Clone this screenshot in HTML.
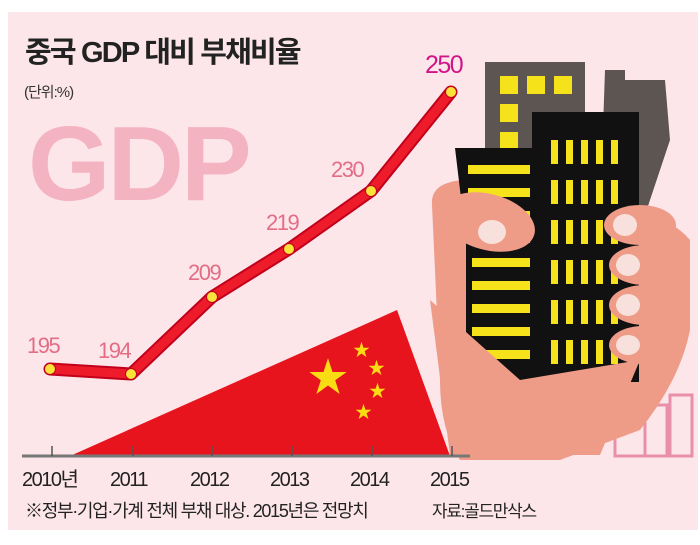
<!DOCTYPE html>
<html><head><meta charset="utf-8"><style>
body{margin:0;background:#fff;width:700px;height:540px;overflow:hidden}
svg text{font-family:"Liberation Sans","Noto Sans CJK KR",sans-serif}
</style></head><body>
<svg width="700" height="540" viewBox="0 0 700 540">
<rect x="8" y="12" width="690" height="518" fill="#fce6ea"/>
<text x="25" y="62" font-size="29" font-weight="bold" fill="#222" letter-spacing="-1.8">중국 GDP 대비 부채비율</text>
<text x="24" y="97" font-size="15" fill="#333" letter-spacing="-1">(단위:%)</text>
<text x="28" y="200" font-size="106" font-weight="bold" fill="#f4b3c0" letter-spacing="-3">GDP</text>
<!-- small pink buildings -->
<g fill="none" stroke="#e890aa" stroke-width="3">
<rect x="615" y="420" width="30" height="36"/><rect x="645" y="405" width="22" height="51"/><rect x="670" y="395" width="22" height="61"/>
</g>
<!-- hand -->
<path d="M432,205 Q430,180 470,180 L520,185 L530,300 L620,230 Q660,205 690,240 L690,330 Q680,380 640,430 L560,460 L460,460 Q440,430 440,380 Z" fill="#ee9c88"/>
<!-- buildings -->
<rect x="485" y="62" width="100" height="120" fill="#5d5552"/>
<path d="M605,70 L625,70 L625,80 L665,80 L670,140 L645,215 L600,215 Z" fill="#5d5552"/>
<g fill="#f6e21a"><rect x="500" y="76" width="18" height="18"/><rect x="527" y="76" width="18" height="18"/><rect x="554" y="76" width="18" height="18"/><rect x="500" y="104" width="18" height="18"/><rect x="500" y="132" width="18" height="18"/></g>
<rect x="532" y="112" width="107" height="270" fill="#111"/>
<path d="M455,148 L535,148 L535,382 L466,382 L466,240 Z" fill="#111"/>
<g fill="#f6e21a">
<rect x="468" y="165" width="62" height="9"/><rect x="468" y="188" width="62" height="9"/><rect x="468" y="211" width="62" height="9"/><rect x="468" y="234" width="62" height="9"/><rect x="472" y="258" width="58" height="9"/><rect x="472" y="281" width="58" height="9"/><rect x="472" y="304" width="58" height="9"/><rect x="472" y="327" width="58" height="9"/><rect x="472" y="350" width="58" height="9"/>
</g>
<g fill="#f6e21a" id="c">
<rect x="551" y="140" width="7" height="24"/><rect x="566" y="140" width="7" height="24"/><rect x="581" y="140" width="7" height="24"/><rect x="596" y="140" width="7" height="24"/><rect x="611" y="140" width="7" height="24"/>
</g>
<use href="#c" y="40"/><use href="#c" y="80"/><use href="#c" y="120"/><use href="#c" y="160"/><use href="#c" y="200"/>
<!-- fingers -->
<g fill="#ee9c88">
<ellipse cx="488" cy="222" rx="48" ry="28" transform="rotate(15 488 222)"/>
<ellipse cx="640" cy="225" rx="36" ry="20"/><ellipse cx="645" cy="265" rx="36" ry="20"/><ellipse cx="645" cy="305" rx="36" ry="20"/><ellipse cx="643" cy="345" rx="34" ry="19"/>
<path d="M430,300 L520,380 L640,360 L600,455 L450,455 Z"/>
</g>
<g fill="#f8e1dc"><ellipse cx="492" cy="232" rx="14" ry="12"/><ellipse cx="625" cy="225" rx="12" ry="11"/><ellipse cx="628" cy="265" rx="12" ry="11"/><ellipse cx="628" cy="305" rx="12" ry="11"/><ellipse cx="628" cy="345" rx="12" ry="10"/></g>
<!-- flag -->
<path d="M70,456 L397,310 L450,456 Z" fill="#e8141d"/>
<g fill="#fadc14" font-size="40"><text x="308" y="391">★</text></g>
<g fill="#fadc14" font-size="17"><text x="353" y="356">★</text><text x="368" y="374">★</text><text x="369" y="397">★</text><text x="355" y="418">★</text></g>
<!-- axis -->
<line x1="22" y1="456" x2="470" y2="456" stroke="#777" stroke-width="3"/>
<g stroke="#555" stroke-width="1.5"><line x1="52" y1="446" x2="52" y2="456"/><line x1="133" y1="446" x2="133" y2="456"/><line x1="212" y1="446" x2="212" y2="456"/><line x1="292" y1="446" x2="292" y2="456"/><line x1="372" y1="446" x2="372" y2="456"/><line x1="452" y1="446" x2="452" y2="456"/></g>
<g font-size="20" fill="#222" letter-spacing="-1.5">
<text x="22" y="486">2010년</text><text x="110" y="486">2011</text><text x="190" y="486">2012</text><text x="270" y="486">2013</text><text x="350" y="486">2014</text><text x="430" y="486">2015</text>
</g>
<text x="25" y="517" font-size="18" fill="#222" letter-spacing="-1.3">※정부·기업·가계 전체 부채 대상. 2015년은 전망치</text>
<text x="432" y="517" font-size="17" fill="#222" letter-spacing="-1.3">자료:골드만삭스</text>
<!-- line -->
<polyline points="50,369 131,374 212,297 289,249 371,191 451,92" fill="none" stroke="#c2001c" stroke-width="13" stroke-linejoin="round" stroke-linecap="round"/>
<polyline points="50,369 131,374 212,297 289,249 371,191 451,92" fill="none" stroke="#ee1c2a" stroke-width="9" stroke-linejoin="round" stroke-linecap="round"/>
<g fill="#fbe23a" stroke="#c2001c" stroke-width="1"><circle cx="50" cy="369" r="5.5"/><circle cx="131" cy="374" r="5.5"/><circle cx="212" cy="297" r="5.5"/><circle cx="289" cy="249" r="5.5"/><circle cx="371" cy="191" r="5.5"/><circle cx="451" cy="92" r="5.5"/></g>
<g font-size="22" fill="#e26d85" letter-spacing="-1.5">
<text x="27" y="353">195</text><text x="98" y="358">194</text><text x="188" y="280">209</text><text x="266" y="230">219</text><text x="331" y="177">230</text>
</g>
<text x="425" y="73" font-size="25" fill="#d0158a" letter-spacing="-1.5">250</text>
</svg>
</body></html>
